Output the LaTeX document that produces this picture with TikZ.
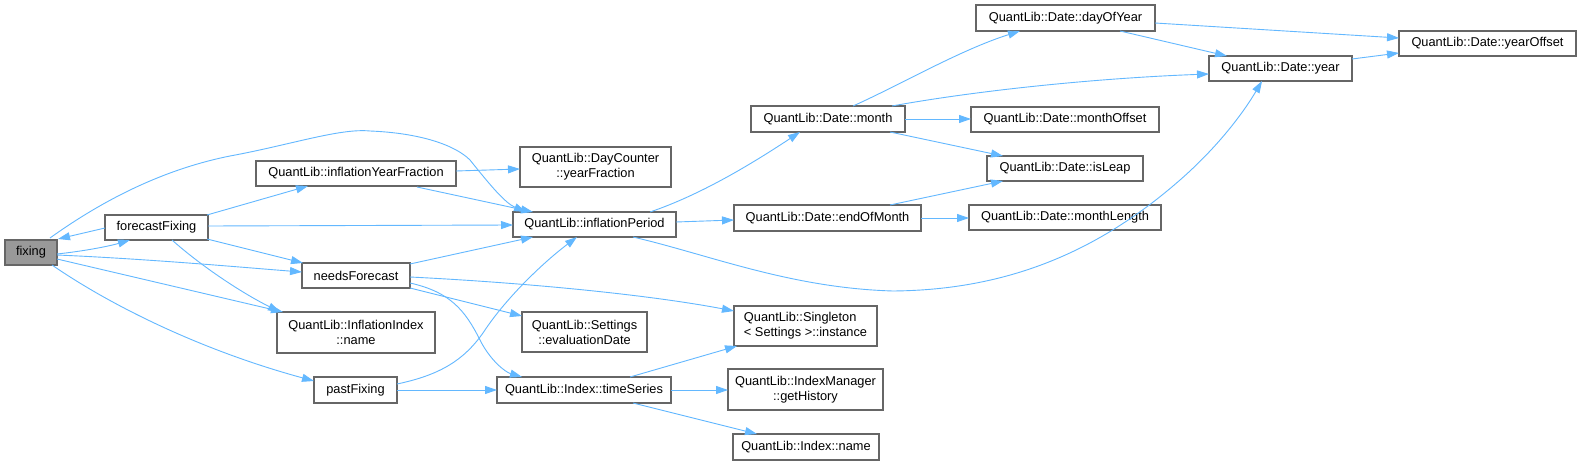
\documentclass[tikz,border=0pt]{standalone}
\usepackage{fontspec}
\setmainfont{Liberation Sans}
\usetikzlibrary{arrows.meta}
\definecolor{edgeblue}{HTML}{63B8FF}
\definecolor{boxgray}{HTML}{666666}
\definecolor{rootfill}{HTML}{999999}
\begin{document}
\begin{tikzpicture}[x=1pt,y=-1pt,
  box/.style={draw=boxgray,line width=1.1pt,fill=white,inner sep=0pt,font=\fontsize{12.8}{15}\selectfont,align=center},
  rootbox/.style={box,fill=rootfill},
  edge/.style={draw=edgeblue,line width=0.9pt,-{Triangle[length=12pt,width=8pt]}}]
\useasboundingbox[fill=white] (0,0) rectangle (1581,465);
% nodes
\node[rootbox,minimum width=52pt,minimum height=25pt] (fixing) at (31,252.5) {fixing};
\node[box,minimum width=103pt,minimum height=25pt] (fF) at (156.5,227.5) {forecastFixing};
\node[box,minimum width=200pt,minimum height=25pt] (iYF) at (356,173.5) {QuantLib::inflationYearFraction};
\node[box,minimum width=108pt,minimum height=25pt] (nF) at (356,275.5) {needsForecast};
\node[box,minimum width=158pt,minimum height=41pt] (iiName) at (356,332.5) {QuantLib::InflationIndex\\::name};
\node[box,minimum width=83pt,minimum height=26pt] (pF) at (355.5,390) {pastFixing};
\node[box,minimum width=151pt,minimum height=40pt] (yF) at (595.5,167) {QuantLib::DayCounter\\::yearFraction};
\node[box,minimum width=163pt,minimum height=25pt] (iP) at (594.5,224.5) {QuantLib::inflationPeriod};
\node[box,minimum width=125pt,minimum height=40pt] (eD) at (584.5,332) {QuantLib::Settings\\::evaluationDate};
\node[box,minimum width=174pt,minimum height=26pt] (tS) at (584,390) {QuantLib::Index::timeSeries};
\node[box,minimum width=154pt,minimum height=26pt] (mo) at (828,119) {QuantLib::Date::month};
\node[box,minimum width=187pt,minimum height=26pt] (eoM) at (827.5,218) {QuantLib::Date::endOfMonth};
\node[box,align=left,minimum width=143pt,minimum height=40pt] (sg) at (805.5,326) {QuantLib::Singleton\\< Settings >::instance};
\node[box,minimum width=155pt,minimum height=41pt] (gH) at (805.5,389.5) {QuantLib::IndexManager\\::getHistory};
\node[box,minimum width=146pt,minimum height=26pt] (iN) at (806,447) {QuantLib::Index::name};
\node[box,minimum width=179pt,minimum height=26pt] (doy) at (1065.5,18) {QuantLib::Date::dayOfYear};
\node[box,minimum width=188pt,minimum height=25pt] (mOf) at (1065,119.5) {QuantLib::Date::monthOffset};
\node[box,minimum width=156pt,minimum height=25pt] (iL) at (1065,168.5) {QuantLib::Date::isLeap};
\node[box,minimum width=192pt,minimum height=25pt] (mL) at (1065,217.5) {QuantLib::Date::monthLength};
\node[box,minimum width=143pt,minimum height=25pt] (yr) at (1280.5,68.5) {QuantLib::Date::year};
\node[box,minimum width=177pt,minimum height=25pt] (yO) at (1487.5,43.5) {QuantLib::Date::yearOffset};
% edges
\draw[edge] ([shift={(26,1.5)}]fixing.center) .. controls (85,251) and (110,246) .. ([shift={(-26.5,12.5)}]fF.center);
\draw[edge] ([shift={(-51.5,0.5)}]fF.center) -- ([shift={(27,-13.5)}]fixing.center);
\draw[edge] ([shift={(19,-14.5)}]fixing.center) .. controls (110,195) and (170,168) .. (230,156)
  .. controls (290,145) and (340,128) .. (370,131) .. controls (420,133) and (455,145) .. (470,160)
  .. controls (490,185) and (505,203) .. ([shift={(-68.5,-12.5)}]iP.center);
\draw[edge] ([shift={(26,2.5)}]fixing.center) .. controls (150,259) and (250,268) .. ([shift={(-54,-3.5)}]nF.center);
\draw[edge] ([shift={(26,6.5)}]fixing.center) -- ([shift={(-73,-20.5)}]iiName.center);
\draw[edge] ([shift={(21,12.5)}]fixing.center) .. controls (110,305) and (200,350) .. ([shift={(-41.5,-9)}]pF.center);
\draw[edge] ([shift={(50.5,-12.5)}]fF.center) -- ([shift={(-48,12.5)}]iYF.center);
\draw[edge] ([shift={(51.5,-1.5)}]fF.center) -- ([shift={(-81.5,0.5)}]iP.center);
\draw[edge] ([shift={(50.5,11.5)}]fF.center) -- ([shift={(-53,-12.5)}]nF.center);
\draw[edge] ([shift={(15.5,12.5)}]fF.center) .. controls (200,265) and (240,292) .. ([shift={(-76,-20.5)}]iiName.center);
\draw[edge] ([shift={(100,-2.5)}]iYF.center) -- ([shift={(-75.5,2)}]yF.center);
\draw[edge] ([shift={(61,13.5)}]iYF.center) -- ([shift={(-61.5,-12.5)}]iP.center);
\draw[edge] ([shift={(54,-11.5)}]nF.center) -- ([shift={(-61.5,12.5)}]iP.center);
\draw[edge] ([shift={(54,1.5)}]nF.center) .. controls (530,283) and (650,295) .. ([shift={(-71.5,-15)}]sg.center);
\draw[edge] ([shift={(54,12.5)}]nF.center) -- ([shift={(-62.5,-16)}]eD.center);
\draw[edge] ([shift={(54,7.5)}]nF.center) .. controls (450,292) and (465,310) .. (480,340)
  .. controls (490,360) and (505,372) .. ([shift={(-62,-13)}]tS.center);
\draw[edge] ([shift={(41.5,-6)}]pF.center) .. controls (440,375) and (465,360) .. (485,330)
  .. controls (505,300) and (540,265) .. ([shift={(-17.5,12.5)}]iP.center);
\draw[edge] ([shift={(41.5,0)}]pF.center) -- ([shift={(-87,0)}]tS.center);
\draw[edge] ([shift={(55.5,-12.5)}]iP.center) .. controls (700,195) and (750,165) .. ([shift={(-28,13)}]mo.center);
\draw[edge] ([shift={(81.5,-2.5)}]iP.center) -- ([shift={(-93.5,2)}]eoM.center);
\draw[edge] ([shift={(38.5,12.5)}]iP.center) .. controls (710,255) and (790,288) .. (893,291)
  .. controls (1010,290) and (1100,250) .. (1180,180)
  .. controls (1220,145) and (1245,110) .. ([shift={(-18.5,12.5)}]yr.center);
\draw[edge] ([shift={(25,-13)}]mo.center) .. controls (900,85) and (960,50) .. ([shift={(-45.5,13)}]doy.center);
\draw[edge] ([shift={(64,-13)}]mo.center) .. controls (980,90) and (1100,78) .. ([shift={(-71.5,5.5)}]yr.center);
\draw[edge] ([shift={(77,0)}]mo.center) -- ([shift={(-94,-0.5)}]mOf.center);
\draw[edge] ([shift={(62,13)}]mo.center) -- ([shift={(-62,-12.5)}]iL.center);
\draw[edge] ([shift={(62.5,-13)}]eoM.center) -- ([shift={(-62,12.5)}]iL.center);
\draw[edge] ([shift={(93.5,0)}]eoM.center) -- ([shift={(-96,0.5)}]mL.center);
\draw[edge] ([shift={(89.5,5)}]doy.center) -- ([shift={(-88.5,-5.5)}]yO.center);
\draw[edge] ([shift={(54.5,13)}]doy.center) -- ([shift={(-53.5,-12.5)}]yr.center);
\draw[edge] ([shift={(71.5,-9.5)}]yr.center) -- ([shift={(-88.5,9.5)}]yO.center);
\draw[edge] ([shift={(46,-13)}]tS.center) -- ([shift={(-68.5,20)}]sg.center);
\draw[edge] ([shift={(87,0)}]tS.center) -- ([shift={(-77.5,0.5)}]gH.center);
\draw[edge] ([shift={(49,13)}]tS.center) -- ([shift={(-49,-13)}]iN.center);
\end{tikzpicture}
\end{document}
